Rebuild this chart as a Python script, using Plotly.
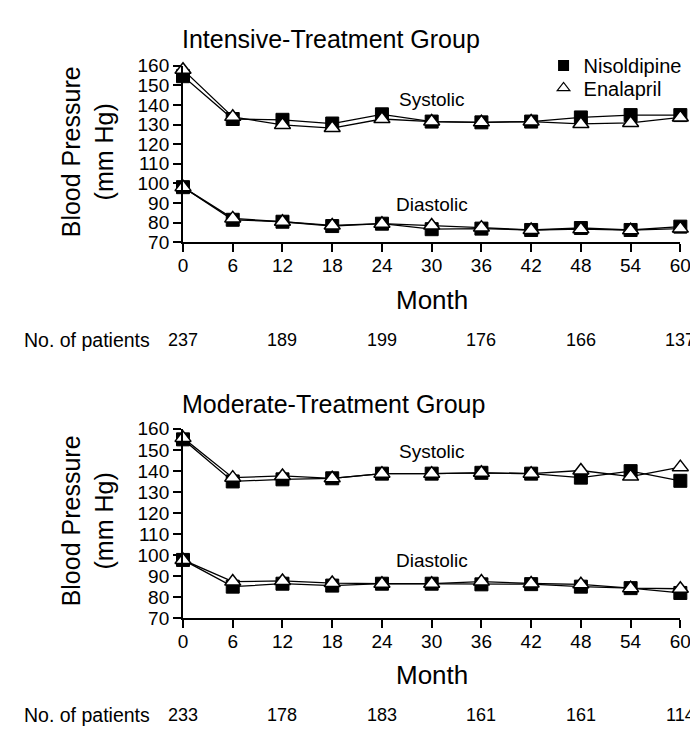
import plotly.graph_objects as go

months = [0, 6, 12, 18, 24, 30, 36, 42, 48, 54, 60]

int_sys_nis = [154.6, 132.8, 132.4, 130.5, 135.2, 131.5, 131.1, 131.5, 133.6, 134.8, 134.8]
int_sys_ena = [157.9, 133.9, 129.8, 128.2, 132.8, 131.5, 131.1, 131.5, 130.3, 130.8, 133.6]
int_dia_nis = [98.1, 81.5, 80.5, 78.3, 79.5, 76.7, 77.0, 76.3, 77.3, 76.3, 78.0]
int_dia_ena = [98.1, 82.2, 80.5, 78.6, 79.5, 78.6, 77.5, 76.3, 76.7, 76.2, 77.0]

mod_sys_nis = [155.0, 135.0, 136.0, 136.5, 138.7, 138.7, 139.1, 138.7, 136.8, 139.9, 135.3]
mod_sys_ena = [155.7, 136.8, 137.6, 136.5, 138.7, 138.7, 139.1, 138.7, 140.2, 137.3, 141.8]
mod_dia_nis = [97.7, 85.0, 86.4, 85.5, 86.4, 86.4, 86.1, 86.2, 85.0, 84.3, 82.0]
mod_dia_ena = [97.7, 87.4, 87.7, 86.7, 86.4, 86.4, 87.4, 86.5, 86.1, 84.3, 84.0]

patient_months = [0, 12, 24, 36, 48, 60]
int_patients = [237, 189, 199, 176, 166, 137]
mod_patients = [233, 178, 183, 161, 161, 114]

y_ticks = [70, 80, 90, 100, 110, 120, 130, 140, 150, 160]
x_ticks = months

FONT = "Liberation Sans, Arial, Helvetica, sans-serif"
W, H = 698, 730

def px(x):
    return x / W

def py(y):
    return 1 - y / H

fig = go.Figure()

nis_marker = dict(symbol="square", size=13, color="black", line=dict(color="black", width=1))
ena_marker = dict(symbol="triangle-up", size=14, color="white", line=dict(color="black", width=1.5))
line_style = dict(color="black", width=1.3)

for xa, ya, series in [
    ("x", "y", [(int_sys_nis, "nis"), (int_dia_nis, "nis"), (int_sys_ena, "ena"), (int_dia_ena, "ena")]),
    ("x2", "y2", [(mod_sys_nis, "nis"), (mod_dia_nis, "nis"), (mod_sys_ena, "ena"), (mod_dia_ena, "ena")]),
]:
    for vals, kind in series:
        fig.add_trace(go.Scatter(
            x=months, y=vals, mode="lines+markers",
            line=line_style,
            marker=nis_marker if kind == "nis" else ena_marker,
            xaxis=xa, yaxis=ya, showlegend=False, cliponaxis=False,
            hoverinfo="skip",
        ))

# legend-only entries (one legend each so their spacing can match the reference)
fig.add_trace(go.Scatter(x=[None], y=[None], mode="markers", name="Nisoldipine",
                         marker=dict(symbol="square", size=11, color="black"),
                         legend="legend"))
fig.add_trace(go.Scatter(x=[None], y=[None], mode="markers", name="Enalapril",
                         marker=dict(symbol="triangle-up", size=11, color="white",
                                     line=dict(color="black", width=1.2)),
                         legend="legend2"))

axis_common = dict(
    showline=True, linecolor="black", linewidth=2,
    ticks="outside", ticklen=8, tickwidth=2, tickcolor="black",
    showgrid=False, zeroline=False,
    tickfont=dict(family=FONT, size=19, color="black"),
)

legend_common = dict(xanchor="left", yanchor="middle",
                     font=dict(family=FONT, size=20, color="black"),
                     bgcolor="rgba(0,0,0,0)", itemwidth=30, tracegroupgap=0)

x_dom = [px(174), px(683)]
fig.update_layout(
    width=W, height=H,
    margin=dict(l=0, r=0, t=0, b=0),
    paper_bgcolor="white", plot_bgcolor="white",
    font=dict(family=FONT, color="black"),
    xaxis=dict(domain=x_dom, range=[0, 60], tickvals=x_ticks, anchor="y",
               ticklabelstandoff=-3, **axis_common),
    yaxis=dict(domain=[py(231), py(49)], range=[70, 160], tickvals=y_ticks, anchor="x", **axis_common),
    xaxis2=dict(domain=x_dom, range=[0, 60], tickvals=x_ticks, anchor="y2",
                ticklabelstandoff=-3, **axis_common),
    yaxis2=dict(domain=[py(618), py(423)], range=[70, 160], tickvals=y_ticks, anchor="x2", **axis_common),
    legend=dict(x=px(543), y=py(49), **legend_common),
    legend2=dict(x=px(543), y=py(72), **legend_common),
    showlegend=True,
)

ann = []
# panel titles
ann.append(dict(text="Intensive-Treatment Group", x=px(171), y=py(22), xref="paper", yref="paper",
                xanchor="left", yanchor="middle", showarrow=False, font=dict(size=25)))
ann.append(dict(text="Moderate-Treatment Group", x=px(171), y=py(397), xref="paper", yref="paper",
                xanchor="left", yanchor="middle", showarrow=False, font=dict(size=25)))
# y titles
for yc in (138, 518):
    ann.append(dict(text="Blood Pressure<br>(mm Hg)", x=px(76), y=py(yc), xref="paper", yref="paper",
                    xanchor="center", yanchor="middle", textangle=-90, showarrow=False,
                    font=dict(size=25)))
# Month labels
for yc in (290, 676):
    ann.append(dict(text="Month", x=px(429), y=py(yc), xref="paper", yref="paper",
                    xanchor="center", yanchor="middle", showarrow=False, font=dict(size=26)))
# Systolic / Diastolic labels
ann.append(dict(text="Systolic", x=30, y=142.7, xref="x", yref="y", showarrow=False, font=dict(size=19)))
ann.append(dict(text="Diastolic", x=30, y=89.3, xref="x", yref="y", showarrow=False, font=dict(size=19)))
ann.append(dict(text="Systolic", x=30, y=149.4, xref="x2", yref="y2", showarrow=False, font=dict(size=19)))
ann.append(dict(text="Diastolic", x=30, y=97.4, xref="x2", yref="y2", showarrow=False, font=dict(size=19)))
# patients rows
for yc, xr, counts in ((332, "x", int_patients), (718, "x2", mod_patients)):
    ann.append(dict(text="No. of patients", x=px(9), y=py(yc), xref="paper", yref="paper",
                    xanchor="left", yanchor="middle", showarrow=False, font=dict(size=19.5)))
    for m, n in zip(patient_months, counts):
        ann.append(dict(text=str(n), x=m, y=py(yc), xref=xr, yref="paper",
                        xanchor="center", yanchor="middle", showarrow=False, font=dict(size=18)))

fig.update_layout(annotations=ann)
fig.write_html("out.html")
